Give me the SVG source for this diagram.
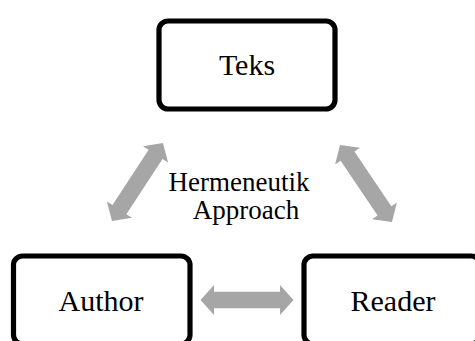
<svg xmlns="http://www.w3.org/2000/svg" width="475" height="341" viewBox="0 0 475 341">
<style>
.box{fill:#fff;stroke:#000;stroke-width:5.2}
.t{fill:#000;text-anchor:middle}
.arr{fill:#A6A6A6}
</style>
<defs>
<path id="dbl" d="M -46.5 0 L -33 -15 L -33 -8.3 L 33 -8.3 L 33 -15 L 46.5 0 L 33 15 L 33 8.3 L -33 8.3 L -33 15 Z"/>
</defs>
<rect width="475" height="341" fill="#fff"/>
<g id="connectors" class="arr">
<use href="#dbl" transform="translate(137.5,182) rotate(-56.8)"/>
<use href="#dbl" transform="translate(366,183.5) rotate(56)"/>
<use href="#dbl" transform="translate(247,300)"/>
</g>
<g font-family="Liberation Serif, Times New Roman, DejaVu Serif, serif">
<g id="teks">
<rect class="box" x="159" y="21" width="176" height="88" rx="9"/>
<text class="t" x="247" y="75" font-size="30">Teks</text>
</g>
<g id="author">
<rect class="box" x="13.5" y="256" width="176.5" height="88" rx="9"/>
<text class="t" x="101" y="311" font-size="30">Author</text>
</g>
<g id="reader">
<rect class="box" x="304" y="256" width="176" height="88" rx="9"/>
<text class="t" x="393" y="311" font-size="30">Reader</text>
</g>
<g id="label">
<text class="t" x="239" y="191" font-size="27">Hermeneutik</text>
<text class="t" x="246" y="219" font-size="27">Approach</text>
</g>
</g>
</svg>
